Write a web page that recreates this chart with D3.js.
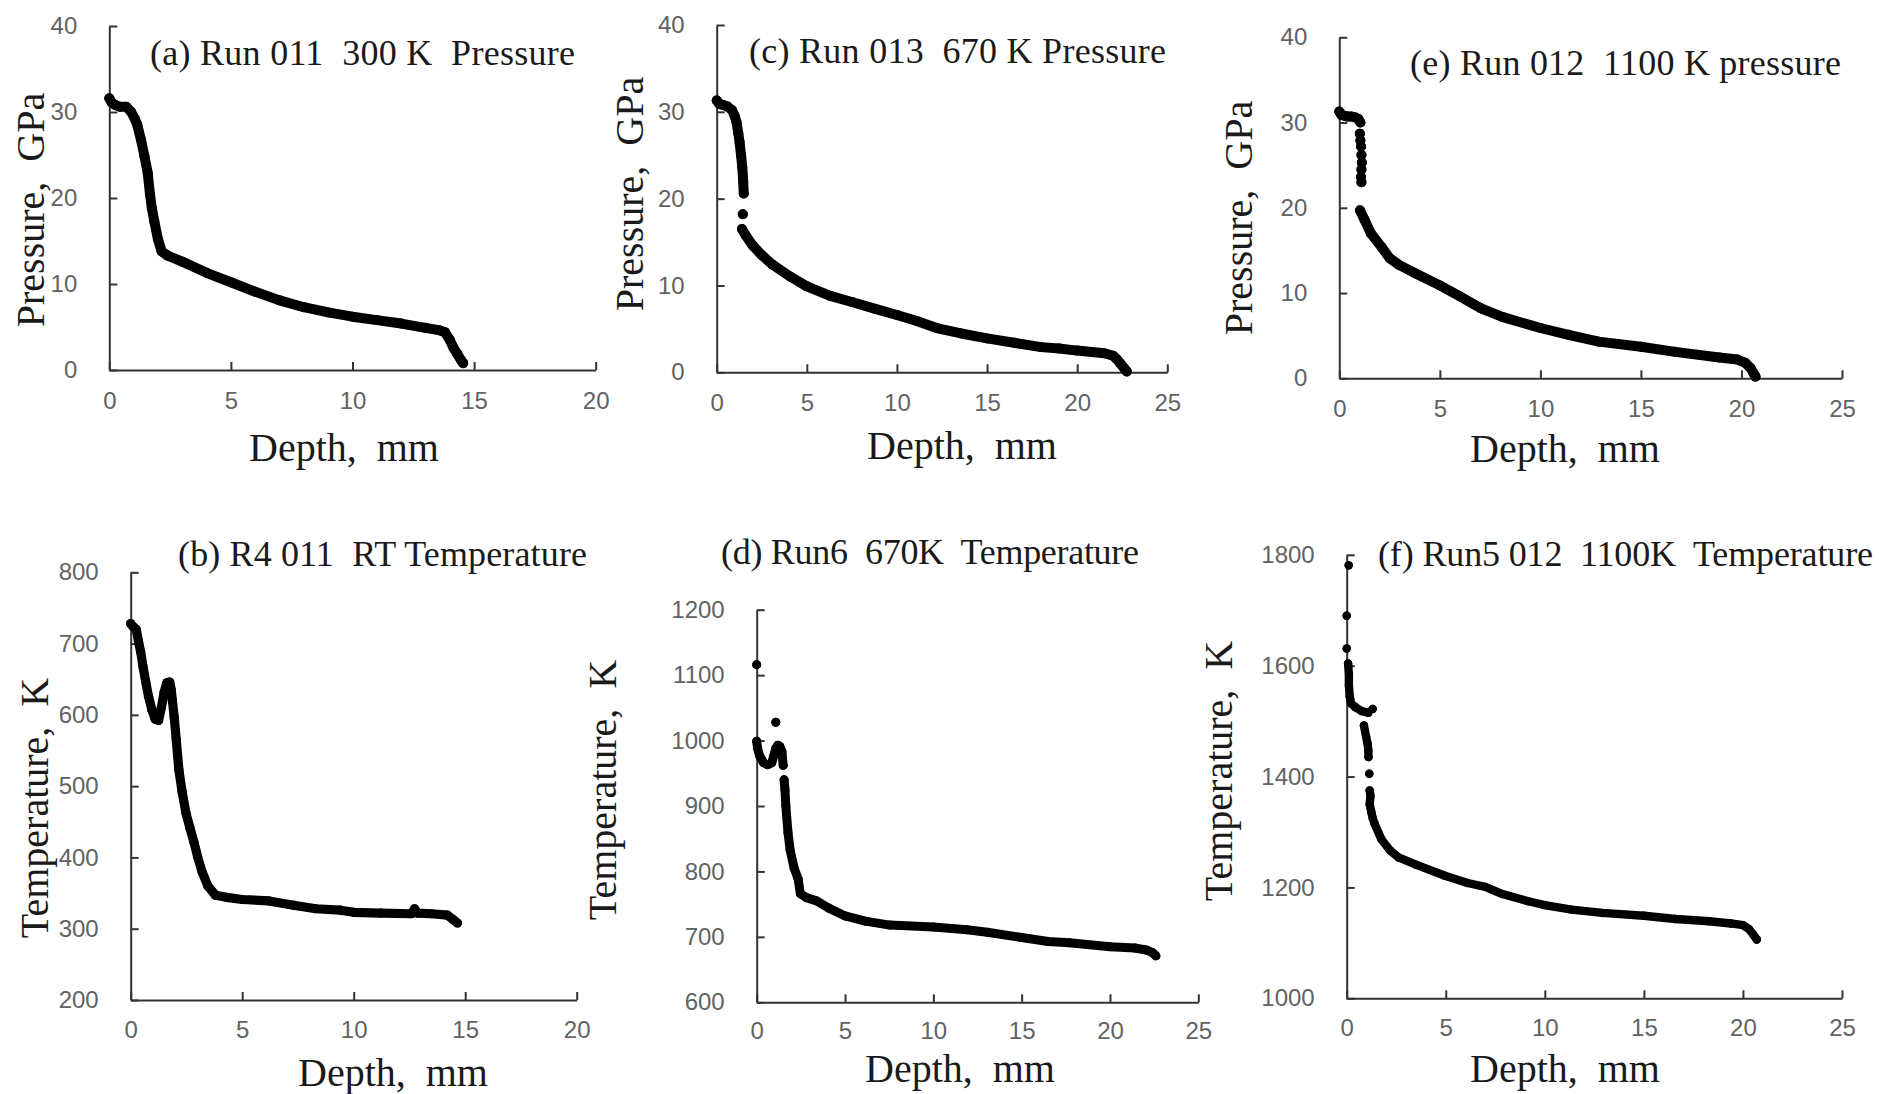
<!DOCTYPE html>
<html><head><meta charset="utf-8">
<script src="https://cdn.jsdelivr.net/npm/d3@7"></script>
<style>
body{margin:0;background:#fff;}
svg{display:block;background:#fff;}
.tick text{font-family:"Liberation Sans Narrow","Arial Narrow","Liberation Sans",Arial,sans-serif;font-size:24px;fill:#626262;}
.tick line,.domain{stroke:#333;stroke-width:2;}
.ttl,.lbl{font-family:"Liberation Serif","Times New Roman",serif;fill:#1a1a1a;white-space:pre;}
</style></head><body>
<svg id="chart" width="1879" height="1094"></svg>
<script>
// ---------- tick labels ----------
const pressureTicks = [0, 10, 20, 30, 40];
const depthTicks20 = [0, 5, 10, 15, 20];
const depthTicks25 = [0, 5, 10, 15, 20, 25];
const tempTicksB = [200, 300, 400, 500, 600, 700, 800];
const tempTicksD = [600, 700, 800, 900, 1000, 1100, 1200];
const tempTicksF = [1000, 1200, 1400, 1600, 1800];

// ---------- (a) Run 011 300 K pressure ----------
const depthA = [0,0.1,0.25,0.45,0.7,0.9,1.05,1.15,1.3,1.45,1.58,1.67,1.75,1.85,2.0,2.15,2.4,3,4,5,6,7,8,9,10,11,12,13,13.6,13.8,14.0,14.15,14.3,14.45,14.55];
const pressureA = [31.6,31.1,30.8,30.6,30.6,30.0,29.2,28.5,26.8,24.8,22.9,20.5,18.8,17.3,15.2,13.8,13.3,12.6,11.3,10.2,9.1,8.1,7.3,6.7,6.2,5.8,5.4,4.9,4.6,4.4,3.5,2.6,1.9,1.2,0.8];

// ---------- (c) Run 013 670 K pressure (null = gap) ----------
const depthC = [0,0.15,0.35,0.6,0.85,1.0,1.1,1.2,1.27,1.35,1.42,1.47,1.5,null,1.45,null,1.4,1.6,2.0,2.5,3.1,4.1,5,6.3,7.5,8.8,10,11.1,12.2,13.5,15,16.5,18,19,20,21.5,22.0,22.2,22.4,22.6,22.75];
const pressureC = [31.3,30.9,30.8,30.6,30.2,29.5,28.8,27.5,26.5,25,23.6,22,20.6,null,18.2,null,16.5,15.8,14.6,13.5,12.4,11.0,9.9,8.8,8.1,7.3,6.6,5.9,5.1,4.5,3.9,3.4,2.9,2.75,2.5,2.2,1.9,1.5,1.0,0.5,0.1];

// ---------- (e) Run 012 1100 K pressure ----------
const depthE = [0,0.1,0.25,0.4,0.6,0.8,0.95,1.05,null,1.02,null,1.05,null,1.08,null,1.1,null,1.12,null,1.1,null,1.08,null,1.1,null,1.03,1.25,1.57,2.1,2.5,2.97,3.8,5,6,7.05,8.1,10,11.4,12.9,15,16.7,18.9,19.8,20.2,20.45,20.6,20.7];
const pressureE = [31.3,30.9,30.8,30.7,30.7,30.6,30.4,30.0,null,28.7,null,27.9,null,27.2,null,26.2,null,25.3,null,24.5,null,23.6,null,23.0,null,19.7,18.6,17.0,15.4,14.1,13.3,12.3,10.9,9.6,8.2,7.2,5.9,5.1,4.3,3.7,3.1,2.45,2.2,1.8,1.2,0.6,0.2];

// ---------- (b) R4 011 RT temperature ----------
const depthB = [0,0.1,0.25,0.35,0.45,0.55,0.67,0.8,0.95,1.1,1.25,1.38,1.5,1.62,1.75,1.82,1.87,1.95,2.04,2.16,2.3,2.48,2.66,2.84,3.0,3.2,3.46,3.8,4.3,5,6.2,7.3,8.3,9.4,10,11.2,12.6,12.73,12.85,13.5,14.2,14.45,14.65];
const tempB = [728,724,720,703,688,668,647,626,607,594,592,611,632,645,646,635,620,597,566,523,493,462,441,421,401,380,360,347,344,341,339,333,328,326,323,322,321,328,322,321,319,313,308];

// ---------- (d) Run6 670K temperature ----------
const depthD = [0,null,0,0.05,0.16,0.39,0.62,0.85,0.97,1.08,1.2,1.31,1.43,1.5,null,1.08,null,1.55,1.6,1.65,1.77,1.89,2.12,2.35,2.47,2.81,3.39,4.08,5,6.15,7.53,10,11.9,13.06,15,16.5,17.7,20,21.4,22.05,22.4,22.6];
const tempD = [1116,null,999,988,977,966,963,966,977,988,993,991,983,962,null,1028,null,940,925,900,860,833,805,788,766,760,755,744,732,724,718,715,711,707,699,693,691,685,683,680,676,671];

// ---------- (f) Run5 012 1100K temperature ----------
const depthF = [0.1,null,0,null,0,null,0.07,0.11,0.11,0.15,0.22,0.44,0.76,1.09,null,1.31,null,0.87,0.98,1.05,1.09,1.1,null,1.14,null,1.16,1.2,1.16,1.25,1.31,1.42,1.75,2.18,2.62,3.49,4.96,6.1,7,7.86,9.17,10,11.35,12.9,15,16.6,18.3,19.4,20,20.3,20.5,20.7];
const tempF = [1781,null,1690,null,1631,null,1604,1585,1565,1545,1532,1525,1518,1515,null,1522,null,1492,1472,1460,1448,1435,null,1405,null,1375,1365,1350,1335,1325,1314,1287,1267,1254,1241,1221,1208,1201,1188,1175,1168,1160,1154,1149,1143,1139,1135,1132,1125,1116,1106];

// ---------- panel text ----------
const titles = {
  a: "(a) Run 011  300 K  Pressure",
  c: "(c) Run 013  670 K Pressure",
  e: "(e) Run 012  1100 K pressure",
  b: "(b) R4 011  RT Temperature",
  d: "(d) Run6  670K  Temperature",
  f: "(f) Run5 012  1100K  Temperature"
};
const xLabel = "Depth,  mm";
const pressureLabel = "Pressure,  GPa";
const tempLabel = "Temperature,  K";

// ---------- layout (positions only) ----------
const layout = {
  a: {x0:109.3, x1:595.7, yT:26, yB:370, tx:150, ty:65, tw:425, lx:344, ly:461, yl:44, yc:210, r:5, pad:22},
  c: {x0:716.7, x1:1167.3, yT:25, yB:372.3, tx:749, ty:63, tw:417, lx:962, ly:459, yl:643, yc:194, r:5, pad:22},
  e: {x0:1339.3, x1:1842, yT:37.3, yB:378.3, tx:1410, ty:75, tw:431, lx:1565, ly:462, yl:1252, yc:218, r:5, pad:22},
  b: {x0:130.7, x1:576.7, yT:572.3, yB:1000, tx:178, ty:566, tw:409, lx:393, ly:1086, yl:48, yc:808, r:4.6, pad:21},
  d: {x0:756.7, x1:1198.3, yT:609.7, yB:1002.3, tx:721, ty:564, tw:418, lx:960, ly:1082, yl:616, yc:790, r:4.5, pad:20},
  f: {x0:1346.7, x1:1842, yT:554.8, yB:998.3, tx:1378, ty:566, tw:495, lx:1565, ly:1082, yl:1232, yc:771, r:4.2, pad:21}
};

const panels = [
  {id:"a", depth:depthA, val:pressureA, xTicks:depthTicks20, yTicks:pressureTicks, yLab:pressureLabel},
  {id:"c", depth:depthC, val:pressureC, xTicks:depthTicks25, yTicks:pressureTicks, yLab:pressureLabel},
  {id:"e", depth:depthE, val:pressureE, xTicks:depthTicks25, yTicks:pressureTicks, yLab:pressureLabel},
  {id:"b", depth:depthB, val:tempB, xTicks:depthTicks20, yTicks:tempTicksB, yLab:tempLabel},
  {id:"d", depth:depthD, val:tempD, xTicks:depthTicks25, yTicks:tempTicksD, yLab:tempLabel},
  {id:"f", depth:depthF, val:tempF, xTicks:depthTicks25, yTicks:tempTicksF, yLab:tempLabel}
];

const svg = d3.select("#chart");

panels.forEach(p => {
  const L = layout[p.id];
  const x = d3.scaleLinear().domain(d3.extent(p.xTicks)).range([L.x0, L.x1]);
  const y = d3.scaleLinear().domain(d3.extent(p.yTicks)).range([L.yB, L.yT]);
  const g = svg.append("g").attr("class", "panel-" + p.id);

  g.append("g").attr("transform", `translate(0,${L.yB})`)
    .call(d3.axisBottom(x).tickValues(p.xTicks).tickFormat(d3.format("d"))
      .tickSize(-8).tickSizeOuter(0).tickPadding(L.pad));
  g.append("g").attr("transform", `translate(${L.x0},0)`)
    .call(d3.axisLeft(y).tickValues(p.yTicks).tickFormat(d3.format("d"))
      .tickSize(-8).tickSizeOuter(0).tickPadding(32));

  const pts = p.depth.map((d, i) => ({x: d, y: p.val[i]}));
  const line = d3.line().defined(d => d.y !== null && d.x !== null)
    .x(d => x(d.x)).y(d => y(d.y));
  g.append("path").datum(pts).attr("d", line)
    .attr("fill", "none").attr("stroke", "#000")
    .attr("stroke-width", L.r * 2).attr("stroke-linecap", "round").attr("stroke-linejoin", "round");
  g.selectAll("circle.pt").data(pts.filter(d => d.y !== null)).join("circle")
    .attr("class", "pt").attr("cx", d => x(d.x)).attr("cy", d => y(d.y))
    .attr("r", L.r).attr("fill", "#000");

  g.append("text").attr("class", "ttl").attr("x", L.tx).attr("y", L.ty)
    .attr("font-size", 36).attr("textLength", L.tw).attr("lengthAdjust", "spacing")
    .text(titles[p.id]);
  g.append("text").attr("class", "lbl").attr("x", L.lx).attr("y", L.ly)
    .attr("text-anchor", "middle").attr("font-size", 40).text(xLabel);
  g.append("text").attr("class", "lbl")
    .attr("transform", `translate(${L.yl},${L.yc}) rotate(-90)`)
    .attr("text-anchor", "middle").attr("font-size", 40).text(p.yLab);
});
</script>
</body></html>
